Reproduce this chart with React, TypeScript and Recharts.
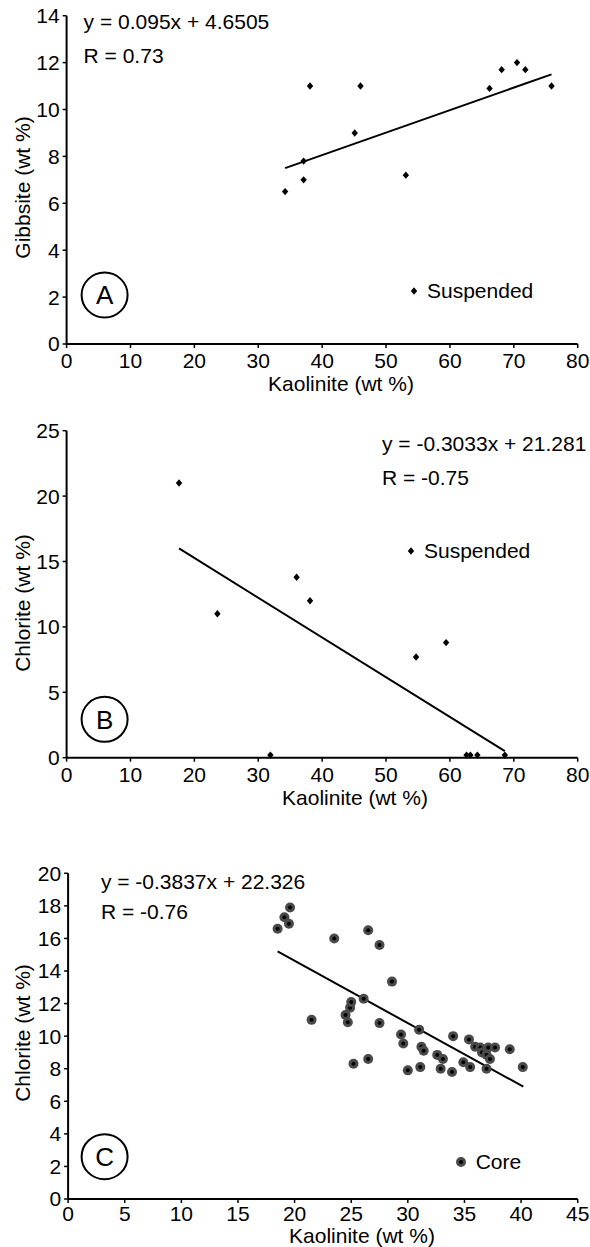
import { ScatterChart, Scatter, XAxis, YAxis, ReferenceLine, Legend } from 'recharts'

const FONT = '"Liberation Sans", Arial, Helvetica, sans-serif'

// Panel A: suspended sediment, gibbsite vs kaolinite
const kaolA = [34.2, 37.1, 37.1, 38.1, 45.1, 46.0, 53.1, 66.2, 68.1, 70.5, 71.8, 75.9]
const gibbA = [6.5, 7.0, 7.8, 11.0, 9.0, 11.0, 7.2, 10.9, 11.7, 12.0, 11.7, 11.0]
const trendAx = [34.2, 75.9]
const trendAy = [7.5, 11.5]
const xTicksA = [0, 10, 20, 30, 40, 50, 60, 70, 80]
const yTicksA = [0, 2, 4, 6, 8, 10, 12, 14]

// Panel B: suspended sediment, chlorite vs kaolinite
const kaolB = [17.6, 23.6, 31.9, 36.0, 38.1, 54.7, 59.4, 62.6, 63.2, 64.3, 68.6]
const chloB = [21.0, 11.0, 0.2, 13.8, 12.0, 7.7, 8.8, 0.2, 0.2, 0.2, 0.2]
const trendBx = [17.6, 68.6]
const trendBy = [16.0, 0.5]
const xTicksB = [0, 10, 20, 30, 40, 50, 60, 70, 80]
const yTicksB = [0, 5, 10, 15, 20, 25]

// Panel C: core samples, chlorite vs kaolinite
const kaolC = [
  18.5, 19.1, 19.5, 19.6, 21.5, 23.5, 24.5, 24.7, 24.9, 25.0, 25.2, 26.1, 26.5, 26.5,
  27.5, 27.5, 28.6, 29.4, 29.6, 30.0, 31.0, 31.1, 31.2, 31.4, 32.6, 32.9, 33.1, 33.9,
  34.0, 34.9, 35.4, 35.5, 35.95, 36.4, 36.55, 36.95, 37.1, 37.25, 36.95, 37.7, 39.0, 40.15,
]
const chloC = [
  16.6, 17.3, 16.9, 17.9, 11.0, 16.0, 11.3, 10.85, 11.75, 12.1, 8.3, 12.3, 16.5, 8.6,
  15.6, 10.8, 13.35, 10.1, 9.55, 7.9, 10.4, 8.1, 9.35, 9.1, 8.85, 8.0, 8.6, 7.8,
  10.0, 8.4, 9.8, 8.1, 9.35, 9.3, 9.0, 8.85, 9.3, 8.6, 8.0, 9.3, 9.2, 8.1,
]
const trendCx = [18.5, 40.2]
const trendCy = [15.2, 6.9]
const xTicksC = [0, 5, 10, 15, 20, 25, 30, 35, 40, 45]
const yTicksC = [0, 2, 4, 6, 8, 10, 12, 14, 16, 18, 20]

const zip = (xs: number[], ys: number[]) => xs.map((x, i) => ({ x, y: ys[i] }))

const Diamond = (props: any) => {
  const { cx, cy } = props
  if (cx == null || cy == null) return null
  return <path d={`M${cx},${cy - 3.7}L${cx + 3.2},${cy}L${cx},${cy + 3.7}L${cx - 3.2},${cy}Z`} fill="#000" />
}

const CoreDot = (props: any) => {
  const { cx, cy } = props
  if (cx == null || cy == null) return null
  return (
    <g>
      <circle cx={cx} cy={cy} r={5} fill="#4a4a4a" />
      <circle cx={cx} cy={cy} r={2} fill="#000" />
    </g>
  )
}

const tickStyle = { fill: '#000', fontSize: 21, fontFamily: FONT }
const axisLine = { stroke: '#000', strokeWidth: 2 }
const tickLine = { stroke: '#000', strokeWidth: 1.5 }

function Panel(props: any) {
  const { top, height, margin, data, tx, ty, xDomain, xTicks, yDomain, yTicks, shape, name, legendLeft, legendTop, legendGap, xTickMargin } = props
  const legendContent = ({ payload }: any) => (
    <div style={{ display: 'flex', alignItems: 'center', height: 24, fontFamily: FONT, fontSize: 21, color: '#000', whiteSpace: 'nowrap' }}>
      {(payload || []).map((p: any) => (
        <span key={p.value} style={{ display: 'flex', alignItems: 'center' }}>
          <svg width={12} height={12} style={{ display: 'block' }}>{shape({ cx: 6, cy: 6 })}</svg>
          <span style={{ marginLeft: legendGap }}>{p.value}</span>
        </span>
      ))}
    </div>
  )
  return (
    <div style={{ position: 'absolute', left: 0, top, width: 590, height }}>
      <ScatterChart width={590} height={height} margin={margin}>
        <XAxis
          type="number"
          dataKey="x"
          domain={xDomain}
          ticks={xTicks}
          interval={0}
          height={40}
          axisLine={axisLine}
          tickLine={tickLine}
          tickSize={4}
          tickMargin={xTickMargin}
          tick={tickStyle}
        />
        <YAxis
          type="number"
          dataKey="y"
          domain={yDomain}
          ticks={yTicks}
          interval={0}
          width={50}
          axisLine={axisLine}
          tickLine={tickLine}
          tickSize={4}
          tickMargin={3}
          tick={tickStyle}
        />
        <ReferenceLine
          segment={[{ x: tx[0], y: ty[0] }, { x: tx[1], y: ty[1] }]}
          stroke="#000"
          strokeWidth={2}
          ifOverflow="visible"
        />
        <Scatter name={name} data={data} shape={shape} fill="#000" isAnimationActive={false} />
        <Legend
          layout="horizontal"
          verticalAlign="middle"
          align="center"
          content={legendContent}
          wrapperStyle={{ left: legendLeft, top: legendTop, width: 'auto' }}
        />
      </ScatterChart>
    </div>
  )
}

const Circled = ({ cx, cy, letter }: any) => (
  <g>
    <ellipse cx={cx} cy={cy} rx={23} ry={22.5} fill="none" stroke="#000" strokeWidth={2} />
    <text x={cx} y={cy + 9.3} textAnchor="middle" fontSize={26} fontFamily={FONT} fill="#000">{letter}</text>
  </g>
)

const txt = { fontSize: 21, fontFamily: FONT, fill: '#000' }

export default function App() {
  return (
    <div style={{ position: 'absolute', left: 0, top: 0, width: 590, height: 1247, background: '#fff' }}>
      <Panel
        top={0}
        height={400}
        margin={{ top: 15.7, right: 12.3, bottom: 16, left: 16.6 }}
        data={zip(kaolA, gibbA)}
        tx={trendAx}
        ty={trendAy}
        xDomain={[0, 80]}
        xTicks={xTicksA}
        yDomain={[0, 14]}
        yTicks={yTicksA}
        shape={Diamond}
        name="Suspended"
        legendLeft={408}
        legendTop={278.7}
        legendGap={7}
        xTickMargin={5}
      />
      <Panel
        top={400}
        height={400}
        margin={{ top: 30.7, right: 12.3, bottom: 2.3, left: 16.6 }}
        data={zip(kaolB, chloB)}
        tx={trendBx}
        ty={trendBy}
        xDomain={[0, 80]}
        xTicks={xTicksB}
        yDomain={[0, 25]}
        yTicks={yTicksB}
        shape={Diamond}
        name="Suspended"
        legendLeft={405}
        legendTop={138.7}
        legendGap={7}
        xTickMargin={5}
      />
      <Panel
        top={800}
        height={447}
        margin={{ top: 73.3, right: 12.3, bottom: 8, left: 18.1 }}
        data={zip(kaolC, chloC)}
        tx={trendCx}
        ty={trendCy}
        xDomain={[0, 45]}
        xTicks={xTicksC}
        yDomain={[0, 20]}
        yTicks={yTicksC}
        shape={CoreDot}
        name="Core"
        legendLeft={454.7}
        legendTop={349.7}
        legendGap={9}
        xTickMargin={3}
      />
      <svg width={590} height={1247} style={{ position: 'absolute', left: 0, top: 0, pointerEvents: 'none' }}>
        <text x={83.6} y={29.2} {...txt}>y = 0.095x + 4.6505</text>
        <text x={83.6} y={62.5} {...txt}>R = 0.73</text>
        <Circled cx={104.6} cy={295} letter="A" />
        <text x={341} y={390.7} textAnchor="middle" {...txt}>Kaolinite (wt %)</text>
        <text transform="translate(29.5,187.5) rotate(-90)" textAnchor="middle" {...txt}>Gibbsite (wt %)</text>

        <text x={382} y={450.8} {...txt}>y = -0.3033x + 21.281</text>
        <text x={382} y={484.8} {...txt}>R = -0.75</text>
        <Circled cx={104.6} cy={719.3} letter="B" />
        <text x={355} y={804.5} textAnchor="middle" {...txt}>Kaolinite (wt %)</text>
        <text transform="translate(29.5,603) rotate(-90)" textAnchor="middle" {...txt}>Chlorite (wt %)</text>

        <text x={100.9} y={888.5} {...txt}>y = -0.3837x + 22.326</text>
        <text x={100.9} y={919.2} {...txt}>R = -0.76</text>
        <Circled cx={104.6} cy={1156.7} letter="C" />
        <text x={362} y={1242.5} textAnchor="middle" {...txt}>Kaolinite (wt %)</text>
        <text transform="translate(29.5,1033) rotate(-90)" textAnchor="middle" {...txt}>Chlorite (wt %)</text>
      </svg>
    </div>
  )
}
